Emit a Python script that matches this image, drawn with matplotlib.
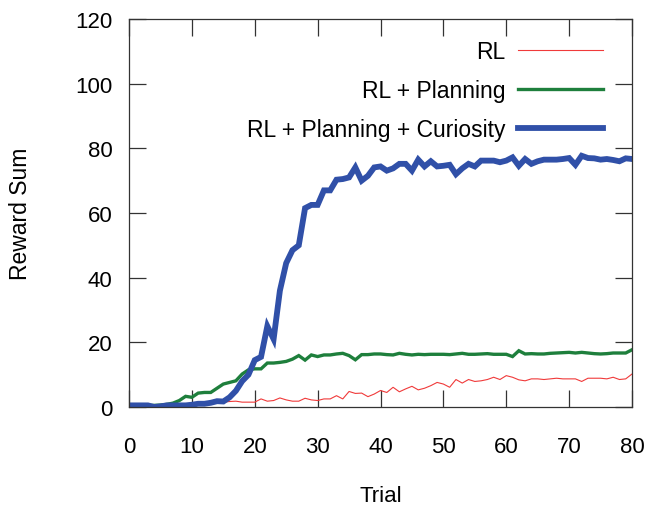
import matplotlib
matplotlib.use("Agg")
import matplotlib.pyplot as plt
import numpy as np

plt.rcParams['font.family'] = ['Liberation Sans', 'DejaVu Sans']

trials = list(range(0, 81))

rl = [0.5, 0.5, 0.5, 0.5, 0.5, 0.5, 0.5, 0.5, 0.5, 0.5,
      0.6, 0.8, 1.0, 1.0, 1.2, 1.5, 1.7, 1.8, 1.5, 1.5,
      1.5, 2.5, 1.8, 2.0, 2.8, 2.2, 1.8, 1.8, 2.7, 2.2,
      2.0, 2.5, 2.5, 3.5, 2.5, 4.8, 4.2, 4.3, 3.2, 4.0,
      5.1, 4.5, 6.1, 4.7, 5.6, 6.4, 5.3, 5.8, 6.6, 7.6,
      7.1, 6.1, 8.5, 7.4, 8.5, 7.9, 8.1, 8.5, 9.2, 8.5,
      9.7, 9.2, 8.4, 8.1, 8.7, 8.7, 8.5, 8.7, 8.9, 8.7,
      8.7, 8.7, 7.9, 8.9, 8.9, 8.9, 8.7, 9.2, 8.5, 8.7,
      10.2]

rl_planning = [0.5, 0.5, 0.5, 0.5, 0.5, 0.6, 0.8, 1.2, 2.0, 3.3,
               3.0, 4.3, 4.5, 4.5, 5.8, 7.1, 7.6, 8.1, 10.2, 11.5,
               11.8, 11.8, 13.6, 13.6, 13.8, 14.1, 14.8, 15.9, 14.5, 16.1,
               15.6, 16.1, 16.1, 16.4, 16.6, 15.9, 14.6, 16.2, 16.2, 16.4,
               16.4, 16.2, 16.1, 16.6, 16.3, 16.1, 16.3, 16.2, 16.3, 16.3,
               16.3, 16.2, 16.4, 16.6, 16.3, 16.3, 16.4, 16.5, 16.3, 16.3,
               16.3, 15.6, 17.4, 16.4, 16.5, 16.4, 16.4, 16.6, 16.7, 16.8,
               16.9, 16.7, 16.9, 16.7, 16.5, 16.4, 16.5, 16.7, 16.7, 16.7,
               17.7]

rl_planning_curiosity = [0.5, 0.5, 0.5, 0.5, 0.0, 0.2, 0.5, 0.5, 0.5, 0.5,
                         0.7, 1.0, 1.0, 1.3, 1.8, 1.7, 3.0, 5.0, 8.0, 10.0,
                         14.5, 15.5, 25.0, 21.0, 36.0, 44.5, 48.5, 50.0, 61.5, 62.5,
                         62.5, 67.0, 67.0, 70.3, 70.5, 71.0, 74.1, 70.0, 71.5, 74.1,
                         74.4, 73.1, 73.8, 75.2, 75.2, 73.1, 76.5, 74.4, 76.0, 74.4,
                         74.6, 74.9, 72.0, 73.8, 75.2, 74.4, 76.2, 76.2, 76.2, 75.7,
                         76.2, 77.2, 74.6, 76.7, 75.2, 76.0, 76.5, 76.5, 76.5, 76.7,
                         77.0, 74.9, 77.7, 77.0, 76.9, 76.5, 76.7, 76.4, 76.0, 76.9,
                         76.7]

labels = ["RL", "RL + Planning", "RL + Planning + Curiosity"]
colors = ["#f03a3a", "#1e7f3c", "#3050a8"]
widths = [0.8, 2.4, 4.2]

FS = 16.5

fig = plt.figure(figsize=(6.47, 5.06), dpi=100)
ax = fig.add_axes([129/647, 98/506, 503/647, 388/506])

for series, lab, c, w in zip([rl, rl_planning, rl_planning_curiosity], labels, colors, widths):
    ax.plot(trials, series, color=c, lw=w, label=lab, solid_joinstyle='miter')

ax.set_xlim(0, 80)
ax.set_ylim(0, 120)
ax.set_xticks(np.arange(0, 81, 10))
ax.set_yticks(np.arange(0, 121, 20))
ax.tick_params(direction='in', length=12, width=0.9, color='#333333',
               labelsize=16, top=True, right=True)
ax.tick_params(axis='x', pad=21)
ax.tick_params(axis='y', pad=12)
for s in ax.spines.values():
    s.set_color('#333333')
    s.set_linewidth(0.9)

ax.set_xlabel("Trial", fontsize=16)
ax.set_ylabel("Reward Sum", fontsize=FS)
ax.xaxis.set_label_coords(0.5, -0.201)
ax.yaxis.set_label_coords(-0.193, 0.5)

leg = ax.legend(loc='upper right', bbox_to_anchor=(0.9423, 0.945), frameon=False,
                markerfirst=False, alignment='right', fontsize=FS,
                handlelength=3.7, handletextpad=0.55, labelspacing=0.7,
                borderpad=0, borderaxespad=0)

fig.savefig("out.png", dpi=100)
